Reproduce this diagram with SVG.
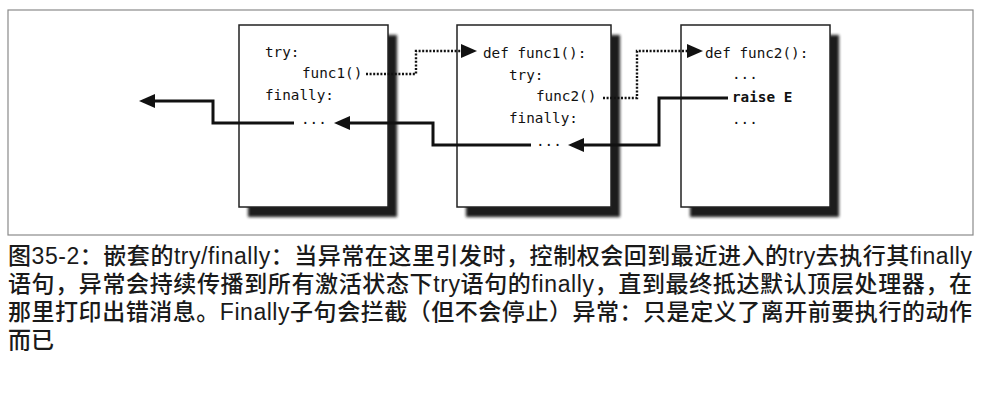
<svg xmlns="http://www.w3.org/2000/svg" width="995" height="414" viewBox="0 0 995 414">
<defs>
<filter id="blur" x="-10%" y="-10%" width="120%" height="120%"><feGaussianBlur stdDeviation="1.6"/></filter>
<marker id="ah" viewBox="0 0 16 14" refX="1" refY="7" markerWidth="16" markerHeight="14" markerUnits="userSpaceOnUse" orient="auto"><path d="M0,0 L16,7 L0,14 z" fill="#111"/></marker>
</defs>
<style>
.frame{fill:none;stroke:#8a8a8a;stroke-width:1.2}
.shadow{fill:#1a1a1a;filter:url(#blur)}
.box{fill:#fff;stroke:#222;stroke-width:1.5}
.code{font-family:"DejaVu Sans Mono","Liberation Mono",monospace;font-size:14.3px;fill:#111}
.bold{font-weight:bold}
.solid{fill:none;stroke:#111;stroke-width:3}
.dot{fill:none;stroke:#111;stroke-width:2.4;stroke-dasharray:2 1.6}
.cap{font-family:"Liberation Sans","Noto Sans CJK SC",sans-serif;font-size:23px;font-weight:500;fill:#1a1a1a}
</style>
<rect width="995" height="414" fill="#fff"/>
<rect class="frame" x="8" y="10" width="965" height="225"/>

<g id="box1">
<rect class="shadow" x="248" y="35" width="149" height="182"/>
<rect class="box" x="239" y="25" width="149" height="182"/>
<text class="code" x="265" y="57">try:</text>
<text class="code" x="302" y="78">func1()</text>
<text class="code" x="265" y="100">finally:</text>
<text class="code" x="301" y="124">...</text>
</g>

<g id="box2">
<rect class="shadow" x="466" y="35" width="154" height="182"/>
<rect class="box" x="457" y="25" width="154" height="182"/>
<text class="code" x="483" y="58">def func1():</text>
<text class="code" x="509" y="80">try:</text>
<text class="code" x="536" y="101">func2()</text>
<text class="code" x="509" y="123">finally:</text>
<text class="code" x="536" y="146">...</text>
</g>

<g id="box3">
<rect class="shadow" x="690" y="35" width="149" height="182"/>
<rect class="box" x="681" y="25" width="149" height="182"/>
<text class="code" x="705" y="58">def func2():</text>
<text class="code" x="732" y="79">...</text>
<text class="code bold" x="732" y="102">raise E</text>
<text class="code" x="732" y="124">...</text>
</g>

<g id="connectors">
<path class="dot" d="M366,74 H416 V51 H462" marker-end="url(#ah)"/>
<path class="dot" d="M603,98 H637 V51 H688" marker-end="url(#ah)"/>
<path class="solid" d="M728,98 H659 V145 H583" marker-end="url(#ah)"/>
<path class="solid" d="M531,145 H433 V123 H349" marker-end="url(#ah)"/>
<path class="solid" d="M294,123 H213 V101 H154" marker-end="url(#ah)"/>
</g>

<g id="caption">
<text class="cap" x="8" y="264" textLength="964" lengthAdjust="spacing">图35-2：嵌套的try/finally：当异常在这里引发时，控制权会回到最近进入的try去执行其finally</text>
<text class="cap" x="8" y="292" textLength="964" lengthAdjust="spacing">语句，异常会持续传播到所有激活状态下try语句的finally，直到最终抵达默认顶层处理器，在</text>
<text class="cap" x="8" y="320" textLength="964" lengthAdjust="spacing">那里打印出错消息。Finally子句会拦截（但不会停止）异常：只是定义了离开前要执行的动作</text>
<text class="cap" x="8" y="348">而已</text>
</g>
</svg>
